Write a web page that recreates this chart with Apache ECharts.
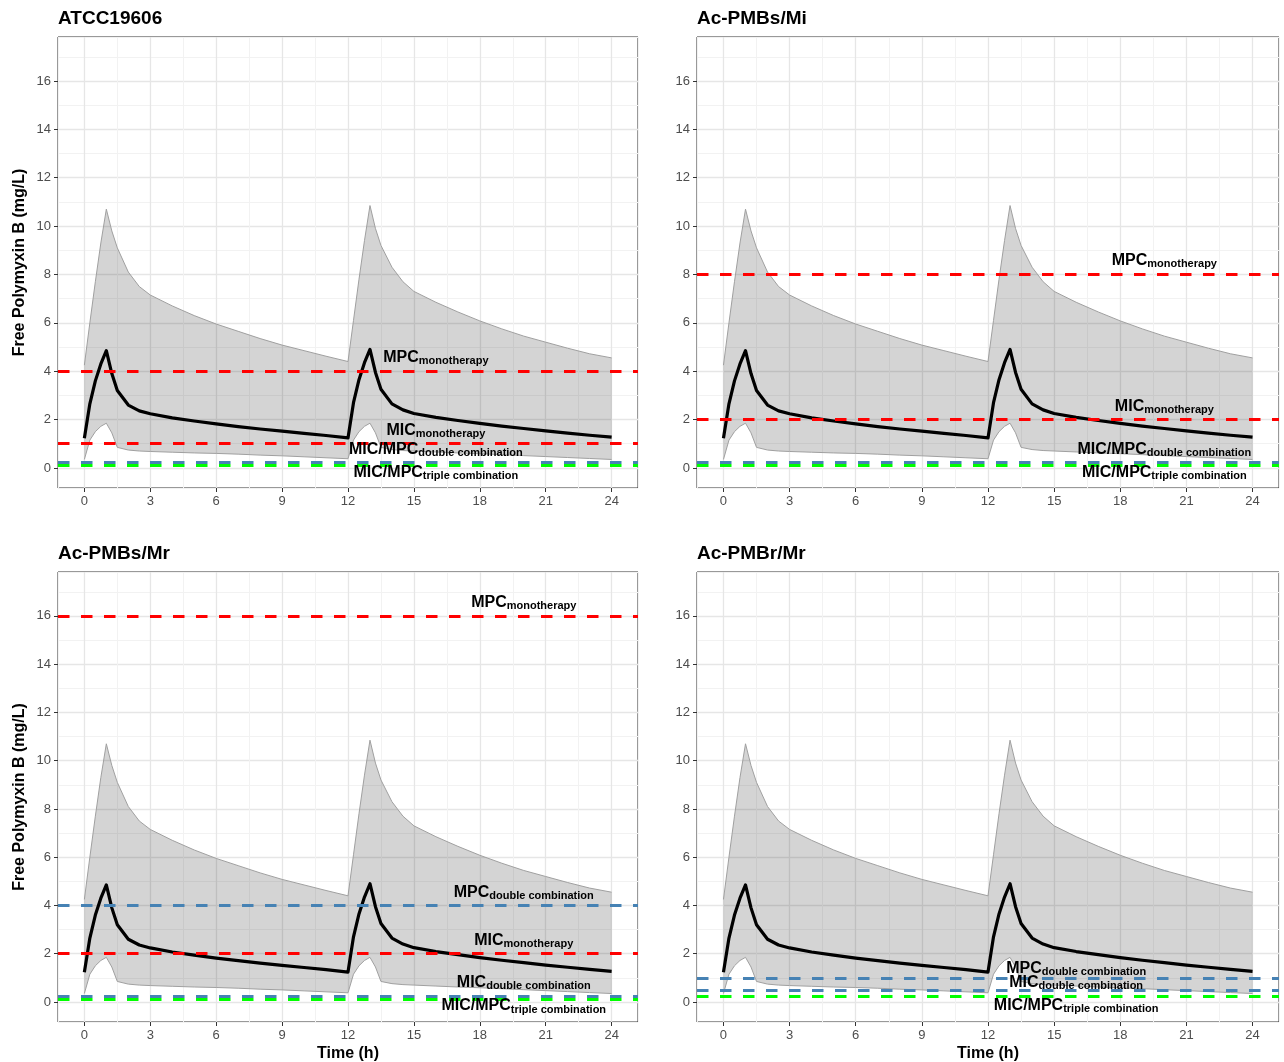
<!DOCTYPE html>
<html>
<head>
<meta charset="utf-8">
<script src="https://cdn.jsdelivr.net/npm/echarts@6/dist/echarts.min.js"></script>
<style>
html,body{margin:0;padding:0;background:#fff;}
#chart{width:1284px;height:1062px;}
</style>
</head>
<body>
<div id="chart"></div>
<script>
// ---------------- DATA ----------------
const panelTitles = ['ATCC19606', 'Ac-PMBs/Mi', 'Ac-PMBs/Mr', 'Ac-PMBr/Mr'];

const time   = [0, 0.25, 0.5, 0.75, 1, 1.25, 1.5, 2, 2.5, 3, 4, 5, 6, 7, 8, 9, 10, 11, 12,
                12.25, 12.5, 12.75, 13, 13.25, 13.5, 14, 14.5, 15, 16, 17, 18, 19, 20, 21, 22, 23, 24];
const median = [1.23, 2.65, 3.6, 4.3, 4.85, 3.9, 3.2, 2.6, 2.36, 2.24, 2.07, 1.94, 1.82, 1.71, 1.61, 1.52, 1.43, 1.34, 1.24,
                2.7, 3.65, 4.35, 4.9, 3.95, 3.25, 2.65, 2.4, 2.25, 2.09, 1.96, 1.84, 1.73, 1.63, 1.53, 1.44, 1.35, 1.27];
const upper  = [4.25, 6.0, 7.7, 9.3, 10.7, 9.8, 9.1, 8.1, 7.5, 7.15, 6.7, 6.3, 5.95, 5.65, 5.35, 5.08, 4.85, 4.62, 4.4,
                6.1, 7.8, 9.4, 10.85, 9.9, 9.2, 8.3, 7.7, 7.3, 6.85, 6.45, 6.08, 5.75, 5.45, 5.2, 4.95, 4.72, 4.55];
const lower  = [0.35, 1.15, 1.5, 1.72, 1.85, 1.45, 0.85, 0.74, 0.7, 0.68, 0.65, 0.62, 0.6, 0.57, 0.53, 0.5, 0.46, 0.42, 0.38,
                1.15, 1.5, 1.72, 1.85, 1.45, 0.85, 0.76, 0.72, 0.7, 0.66, 0.62, 0.59, 0.55, 0.51, 0.47, 0.43, 0.39, 0.35];

const xTicks = [0, 3, 6, 9, 12, 15, 18, 21, 24];
const yTicks = [0, 2, 4, 6, 8, 10, 12, 14, 16];

// threshold lines: [value, kind]
const hlines1 = [[4, 'mono'], [1, 'mono'], [0.25, 'double'], [0.125, 'triple']];
const hlines2 = [[8, 'mono'], [2, 'mono'], [0.25, 'double'], [0.125, 'triple']];
const hlines3 = [[16, 'mono'], [4, 'double'], [2, 'mono'], [0.25, 'double'], [0.125, 'triple']];
const hlines4 = [[1, 'double'], [0.5, 'double'], [0.25, 'triple']];

// labels: [x, y, main, subscript]
const labels1 = [[16, 4.55, 'MPC', 'monotherapy'], [16, 1.55, 'MIC', 'monotherapy'],
                 [16, 0.76, 'MIC/MPC', 'double combination'], [16, -0.2, 'MIC/MPC', 'triple combination']];
const labels2 = [[20, 8.57, 'MPC', 'monotherapy'], [20, 2.55, 'MIC', 'monotherapy'],
                 [20, 0.76, 'MIC/MPC', 'double combination'], [20, -0.2, 'MIC/MPC', 'triple combination']];
const labels3 = [[20, 16.56, 'MPC', 'monotherapy'], [20, 4.53, 'MPC', 'double combination'],
                 [20, 2.54, 'MIC', 'monotherapy'], [20, 0.79, 'MIC', 'double combination'],
                 [20, -0.17, 'MIC/MPC', 'triple combination']];
const labels4 = [[16, 1.4, 'MPC', 'double combination'], [16, 0.82, 'MIC', 'double combination'],
                 [16, -0.15, 'MIC/MPC', 'triple combination']];

// ---------------- STYLE / LAYOUT ----------------
const FONT = 'Liberation Sans, Arial, Helvetica, sans-serif';
const lineColors = { mono: '#FF0000', double: '#4682B4', triple: '#00FF00' };
const hlineSets = [hlines1, hlines2, hlines3, hlines4];
const labelSets = [labels1, labels2, labels3, labels4];
const grids = [
  { left: 58,  top: 37,  width: 580, height: 451 },
  { left: 697, top: 37,  width: 582, height: 451 },
  { left: 58,  top: 572, width: 580, height: 450 },
  { left: 697, top: 572, width: 582, height: 450 }
];
const X_MIN = -1.2, X_MAX = 25.2, Y_MIN = -0.83, Y_MAX = 17.82;

const xAxes = [], yAxes = [], series = [], titles = [];

const bandData = time.map((t, k) => [t, lower[k], upper[k]]);

function renderBand(params, api) {
  if (params.dataIndex !== 0) return null;
  const pts = [];
  for (let k = 0; k < time.length; k++) pts.push(api.coord([time[k], upper[k]]));
  for (let k = time.length - 1; k >= 0; k--) pts.push(api.coord([time[k], lower[k]]));
  return {
    type: 'polygon',
    shape: { points: pts },
    style: { fill: 'rgba(0,0,0,0.17)', stroke: 'none' },
    silent: true
  };
}

grids.forEach((g, i) => {
  // minor grid axes
  xAxes.push({
    type: 'value', gridIndex: i, position: 'top', min: X_MIN, max: X_MAX, minInterval: 1.5, maxInterval: 1.5, splitNumber: 18,
    axisLine: { show: false, onZero: false }, axisTick: { show: false }, axisLabel: { show: false },
    splitLine: { show: true, lineStyle: { color: '#F2F2F2', width: 1 } }
  });
  xAxes.push({
    type: 'value', gridIndex: i, position: 'bottom', min: X_MIN, max: X_MAX, minInterval: 3, maxInterval: 3, splitNumber: 9,
    axisLine: { show: false, onZero: false },
    axisTick: { show: true, customValues: xTicks, length: 4, lineStyle: { color: '#333333', width: 1 } },
    axisLabel: { customValues: xTicks, color: '#4D4D4D', fontSize: 13, margin: 7, fontFamily: FONT },
    splitLine: { show: true, lineStyle: { color: '#E6E6E6', width: 1.3 } },
    name: i >= 2 ? 'Time (h)' : '', nameLocation: 'middle', nameGap: 24,
    nameTextStyle: { fontSize: 16, fontWeight: 'bold', color: '#000', fontFamily: FONT }
  });
  yAxes.push({
    type: 'value', gridIndex: i, position: 'right', min: Y_MIN, max: Y_MAX, minInterval: 1, maxInterval: 1, splitNumber: 18,
    axisLine: { show: false, onZero: false }, axisTick: { show: false }, axisLabel: { show: false },
    splitLine: { show: true, lineStyle: { color: '#F2F2F2', width: 1 } }
  });
  yAxes.push({
    type: 'value', gridIndex: i, position: 'left', min: Y_MIN, max: Y_MAX, minInterval: 2, maxInterval: 2, splitNumber: 9,
    axisLine: { show: false, onZero: false },
    axisTick: { show: true, customValues: yTicks, length: 4, lineStyle: { color: '#333333', width: 1 } },
    axisLabel: { customValues: yTicks, color: '#4D4D4D', fontSize: 13, margin: 7, fontFamily: FONT },
    splitLine: { show: true, lineStyle: { color: '#E6E6E6', width: 1.3 } },
    name: (i % 2 === 0) ? 'Free Polymyxin B (mg/L)' : '', nameLocation: 'middle', nameGap: 30,
    nameTextStyle: { fontSize: 16, fontWeight: 'bold', color: '#000', fontFamily: FONT }
  });

  const xi = 2 * i + 1, yi = 2 * i + 1;

  series.push({
    type: 'custom', name: 'band' + i, xAxisIndex: xi, yAxisIndex: yi, silent: true, z: 2, clip: true,
    data: bandData, renderItem: renderBand
  });
  series.push({
    type: 'line', name: 'lower' + i, xAxisIndex: xi, yAxisIndex: yi,
    data: time.map((t, k) => [t, lower[k]]), symbol: 'none', silent: true, z: 2,
    lineStyle: { color: '#A0A0A0', width: 1 }
  });
  series.push({
    type: 'line', name: 'upper' + i, xAxisIndex: xi, yAxisIndex: yi,
    data: time.map((t, k) => [t, upper[k]]), symbol: 'none', silent: true, z: 2,
    lineStyle: { color: '#A0A0A0', width: 1 }
  });
  series.push({
    type: 'line', name: 'median' + i, xAxisIndex: xi, yAxisIndex: yi,
    data: time.map((t, k) => [t, median[k]]), symbol: 'none', silent: true, z: 3,
    lineStyle: { color: '#000', width: 3.2, join: 'round' }
  });
  series.push({
    type: 'line', name: 'thresholds' + i, xAxisIndex: xi, yAxisIndex: yi, data: [], silent: true, z: 4,
    markLine: {
      symbol: ['none', 'none'], silent: true, animation: false, label: { show: false },
      data: hlineSets[i].map(h => ({ yAxis: h[0], lineStyle: { color: lineColors[h[1]], width: 2.8, type: [11.5, 11.5], cap: 'butt', opacity: 1 } }))
    }
  });
  series.push({
    type: 'scatter', name: 'labels' + i, xAxisIndex: xi, yAxisIndex: yi, symbolSize: 0, silent: true, z: 5,
    data: labelSets[i].map(l => ({ value: [l[0], l[1]], label: { formatter: '{a|' + l[2] + '}{b|' + l[3] + '}' } })),
    label: {
      show: true, position: 'inside', align: 'center', color: '#000', opacity: 1,
      rich: {
        a: { fontSize: 16, fontWeight: 'bold', color: '#000', fontFamily: FONT, lineHeight: 18 },
        b: { fontSize: 11, fontWeight: 'bold', color: '#000', fontFamily: FONT, lineHeight: 9, verticalAlign: 'bottom' }
      }
    }
  });

  titles.push({
    text: panelTitles[i], left: g.left, top: g.top - 28, padding: 0,
    textStyle: { fontSize: 19, fontWeight: 'bold', color: '#000', fontFamily: FONT }
  });
});

const chart = echarts.init(document.getElementById('chart'), null, { renderer: 'canvas' });
chart.setOption({
  animation: false,
  backgroundColor: '#FFFFFF',
  title: titles,
  grid: grids.map(g => Object.assign({ show: true, borderColor: '#333333', borderWidth: 1, backgroundColor: 'transparent', containLabel: false, outerBoundsMode: 'none' }, g)),
  xAxis: xAxes,
  yAxis: yAxes,
  series: series
});
</script>
</body>
</html>
